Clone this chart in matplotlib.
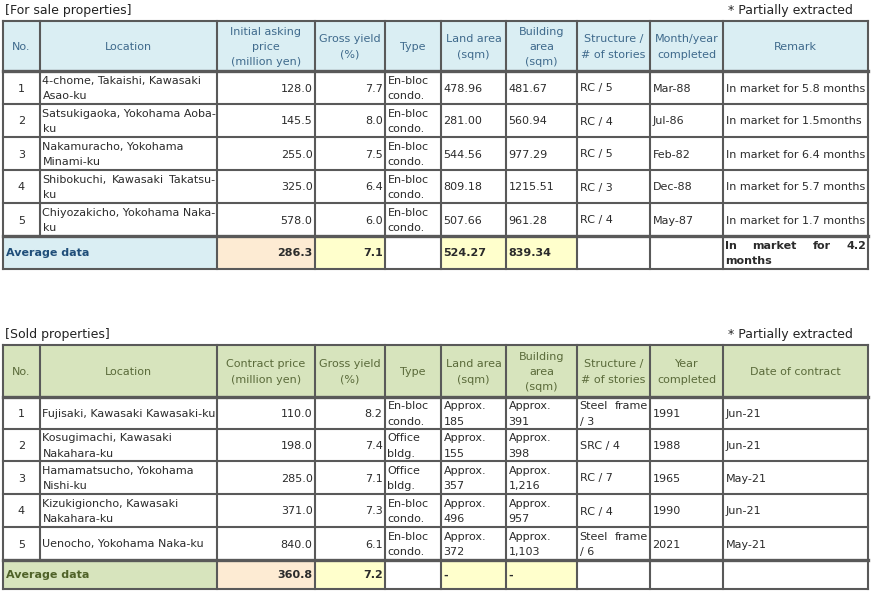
import matplotlib
matplotlib.use("Agg")
import matplotlib.pyplot as plt
from matplotlib.patches import Rectangle

# ---------------- data ----------------
sale_title = "[For sale properties]"
note_text = "* Partially extracted"
sale_headers = ["No.", "Location", "Initial asking\nprice\n(million yen)", "Gross yield\n(%)", "Type",
                "Land area\n(sqm)", "Building\narea\n(sqm)", "Structure /\n# of stories",
                "Month/year\ncompleted", "Remark"]
sale_no = [1, 2, 3, 4, 5]
sale_location = ["4-chome, Takaishi, Kawasaki\nAsao-ku", "Satsukigaoka, Yokohama Aoba-\nku",
                 "Nakamuracho, Yokohama\nMinami-ku", "Shibokuchi, Kawasaki Takatsu-\nku",
                 "Chiyozakicho, Yokohama Naka-\nku"]
sale_price = [128.0, 145.5, 255.0, 325.0, 578.0]
sale_yield = [7.7, 8.0, 7.5, 6.4, 6.0]
sale_type = ["En-bloc\ncondo."] * 5
sale_land = [478.96, 281.00, 544.56, 809.18, 507.66]
sale_building = [481.67, 560.94, 977.29, 1215.51, 961.28]
sale_structure = ["RC / 5", "RC / 4", "RC / 5", "RC / 3", "RC / 4"]
sale_completed = ["Mar-88", "Jul-86", "Feb-82", "Dec-88", "May-87"]
sale_remark = ["In market for 5.8 months", "In market for 1.5months", "In market for 6.4 months",
               "In market for 5.7 months", "In market for 1.7 months"]
sale_avg_price = 286.3
sale_avg_yield = 7.1
sale_avg_land = 524.27
sale_avg_building = 839.34
sale_avg_remark = "In market for 4.2\nmonths"

sold_title = "[Sold properties]"
sold_headers = ["No.", "Location", "Contract price\n(million yen)", "Gross yield\n(%)", "Type",
                "Land area\n(sqm)", "Building\narea\n(sqm)", "Structure /\n# of stories",
                "Year\ncompleted", "Date of contract"]
sold_no = [1, 2, 3, 4, 5]
sold_location = ["Fujisaki, Kawasaki Kawasaki-ku", "Kosugimachi, Kawasaki\nNakahara-ku",
                 "Hamamatsucho, Yokohama\nNishi-ku", "Kizukigioncho, Kawasaki\nNakahara-ku",
                 "Uenocho, Yokohama Naka-ku"]
sold_price = [110.0, 198.0, 285.0, 371.0, 840.0]
sold_yield = [8.2, 7.4, 7.1, 7.3, 6.1]
sold_type = ["En-bloc\ncondo.", "Office\nbldg.", "Office\nbldg.", "En-bloc\ncondo.", "En-bloc\ncondo."]
sold_land = ["Approx.\n185", "Approx.\n155", "Approx.\n357", "Approx.\n496", "Approx.\n372"]
sold_building = ["Approx.\n391", "Approx.\n398", "Approx.\n1,216", "Approx.\n957", "Approx.\n1,103"]
sold_structure = ["Steel frame\n/ 3", "SRC / 4", "RC / 7", "RC / 4", "Steel frame\n/ 6"]
sold_completed = ["1991", "1988", "1965", "1990", "2021"]
sold_contract = ["Jun-21", "Jun-21", "May-21", "Jun-21", "May-21"]
sold_avg_price = 360.8
sold_avg_yield = 7.2
sold_avg_land = "-"
sold_avg_building = "-"
avg_label = "Average data"

# ---------------- layout / style ----------------
W, H = 874, 594
FS = 8.0
TFS = 9.0
LINE = 15.2
BORDER = "#595959"
BODY = "#2b2b2b"
col_edges = [3, 40, 217, 315, 385, 441, 506, 577, 650, 723, 868]
aligns = ["center", "left", "right", "right", "left", "left", "left", "left", "left", "left"]

fig = plt.figure(figsize=(W / 100, H / 100), dpi=100)
ax = fig.add_axes([0, 0, 1, 1])
ax.set_xlim(0, W)
ax.set_ylim(H, 0)
ax.axis("off")
renderer = fig.canvas.get_renderer()


def text_width(s, weight="normal", size=FS):
    t = ax.text(0, 0, s, fontsize=size, fontweight=weight)
    w = t.get_window_extent(renderer).width
    t.remove()
    return w


def draw_line(s, x0, x1, yc, align, color=BODY, weight="normal", justify=False):
    yb = yc + 4.0
    if justify:
        words = s.split()
        widths = [text_width(w, weight) for w in words]
        gap = (x1 - x0 - 4 - sum(widths)) / max(len(words) - 1, 1)
        x = x0 + 2
        for w, ww in zip(words, widths):
            ax.text(x, yb, w, fontsize=FS, color=color, fontweight=weight, ha="left", va="baseline")
            x += ww + gap
        return
    if align == "left":
        x, ha = x0 + 2.5, "left"
    elif align == "right":
        x, ha = x1 - 2.5, "right"
    else:
        x, ha = (x0 + x1) / 2, "center"
    ax.text(x, yb, s, fontsize=FS, color=color, fontweight=weight, ha=ha, va="baseline")


def draw_cell(s, x0, x1, y0, y1, align, color=BODY, weight="normal", justify=False):
    lines = s.split("\n")
    yc = (y0 + y1) / 2
    n = len(lines)
    for i, ln in enumerate(lines):
        y = yc + (i - (n - 1) / 2) * LINE
        draw_line(ln, x0, x1, y, align, color, weight, justify and i < n - 1)


def draw_table(y_top, row_edges, headers, rows, avg_vals, head_fill, head_color, avg_color, justified):
    y_edges = [y_top + r for r in row_edges]
    ax.add_patch(Rectangle((col_edges[0], y_edges[0]), col_edges[-1] - col_edges[0],
                           y_edges[1] - y_edges[0], facecolor=head_fill, edgecolor="none"))
    ya0, ya1 = y_edges[-2], y_edges[-1]
    avg_fills = {0: head_fill, 2: "#fdebd3", 3: "#ffffcc", 5: "#ffffcc", 6: "#ffffcc"}
    for c, fc in avg_fills.items():
        x1 = col_edges[2] if c == 0 else col_edges[c + 1]
        ax.add_patch(Rectangle((col_edges[c], ya0), x1 - col_edges[c], ya1 - ya0,
                               facecolor=fc, edgecolor="none"))
    for c, h in enumerate(headers):
        draw_cell(h, col_edges[c], col_edges[c + 1], y_edges[0], y_edges[1], "center", color=head_color)
    for r, row in enumerate(rows):
        for c, val in enumerate(row):
            draw_cell(val, col_edges[c], col_edges[c + 1], y_edges[r + 1], y_edges[r + 2],
                      aligns[c], justify=(r, c) in justified)
    draw_line(avg_label, col_edges[0], col_edges[2], (ya0 + ya1) / 2, "left", color=avg_color, weight="bold")
    for c, val in avg_vals.items():
        draw_cell(val, col_edges[c], col_edges[c + 1], ya0, ya1, aligns[c], color=BODY,
                  weight="bold", justify=("avg", c) in justified)
    lw = 1.5
    for i, y in enumerate(y_edges):
        thick = 2.4 if i in (1, len(y_edges) - 2) else lw
        ax.plot([col_edges[0], col_edges[-1]], [y, y], color=BORDER, lw=thick, solid_capstyle="projecting")
    for i, x in enumerate(col_edges):
        yb = y_edges[-2] if i == 1 else y_edges[-1]
        ax.plot([x, x], [y_edges[0], yb], color=BORDER, lw=lw, solid_capstyle="projecting")


ax.text(5, 14, sale_title, fontsize=TFS, color="#222222", ha="left", va="baseline")
ax.text(853, 14, note_text, fontsize=TFS, color="#222222", ha="right", va="baseline")
ax.text(5, 338, sold_title, fontsize=TFS, color="#222222", ha="left", va="baseline")
ax.text(853, 338, note_text, fontsize=TFS, color="#222222", ha="right", va="baseline")

sale_rows = [[str(sale_no[i]), sale_location[i], f"{sale_price[i]:.1f}", f"{sale_yield[i]:.1f}",
              sale_type[i], f"{sale_land[i]:.2f}", f"{sale_building[i]:.2f}", sale_structure[i],
              sale_completed[i], sale_remark[i]] for i in range(5)]
sale_avg = {2: f"{sale_avg_price:.1f}", 3: f"{sale_avg_yield:.1f}", 5: f"{sale_avg_land:.2f}",
            6: f"{sale_avg_building:.2f}", 9: sale_avg_remark}
draw_table(21, [0, 50, 83, 116, 149, 182, 215, 248], sale_headers, sale_rows, sale_avg,
           "#daeef3", "#3f6a8c", "#1f4e79", {(3, 1), ("avg", 9)})

sold_rows = [[str(sold_no[i]), sold_location[i], f"{sold_price[i]:.1f}", f"{sold_yield[i]:.1f}",
              sold_type[i], sold_land[i], sold_building[i], sold_structure[i],
              sold_completed[i], sold_contract[i]] for i in range(5)]
sold_avg = {2: f"{sold_avg_price:.1f}", 3: f"{sold_avg_yield:.1f}", 5: sold_avg_land, 6: sold_avg_building}
draw_table(345, [0, 52, 84, 116, 149, 182, 215, 244], sold_headers, sold_rows, sold_avg,
           "#d7e4bd", "#5a6a3a", "#4f6228", {(0, 7), (4, 7)})

fig.savefig("out.png", dpi=100, facecolor="white")
